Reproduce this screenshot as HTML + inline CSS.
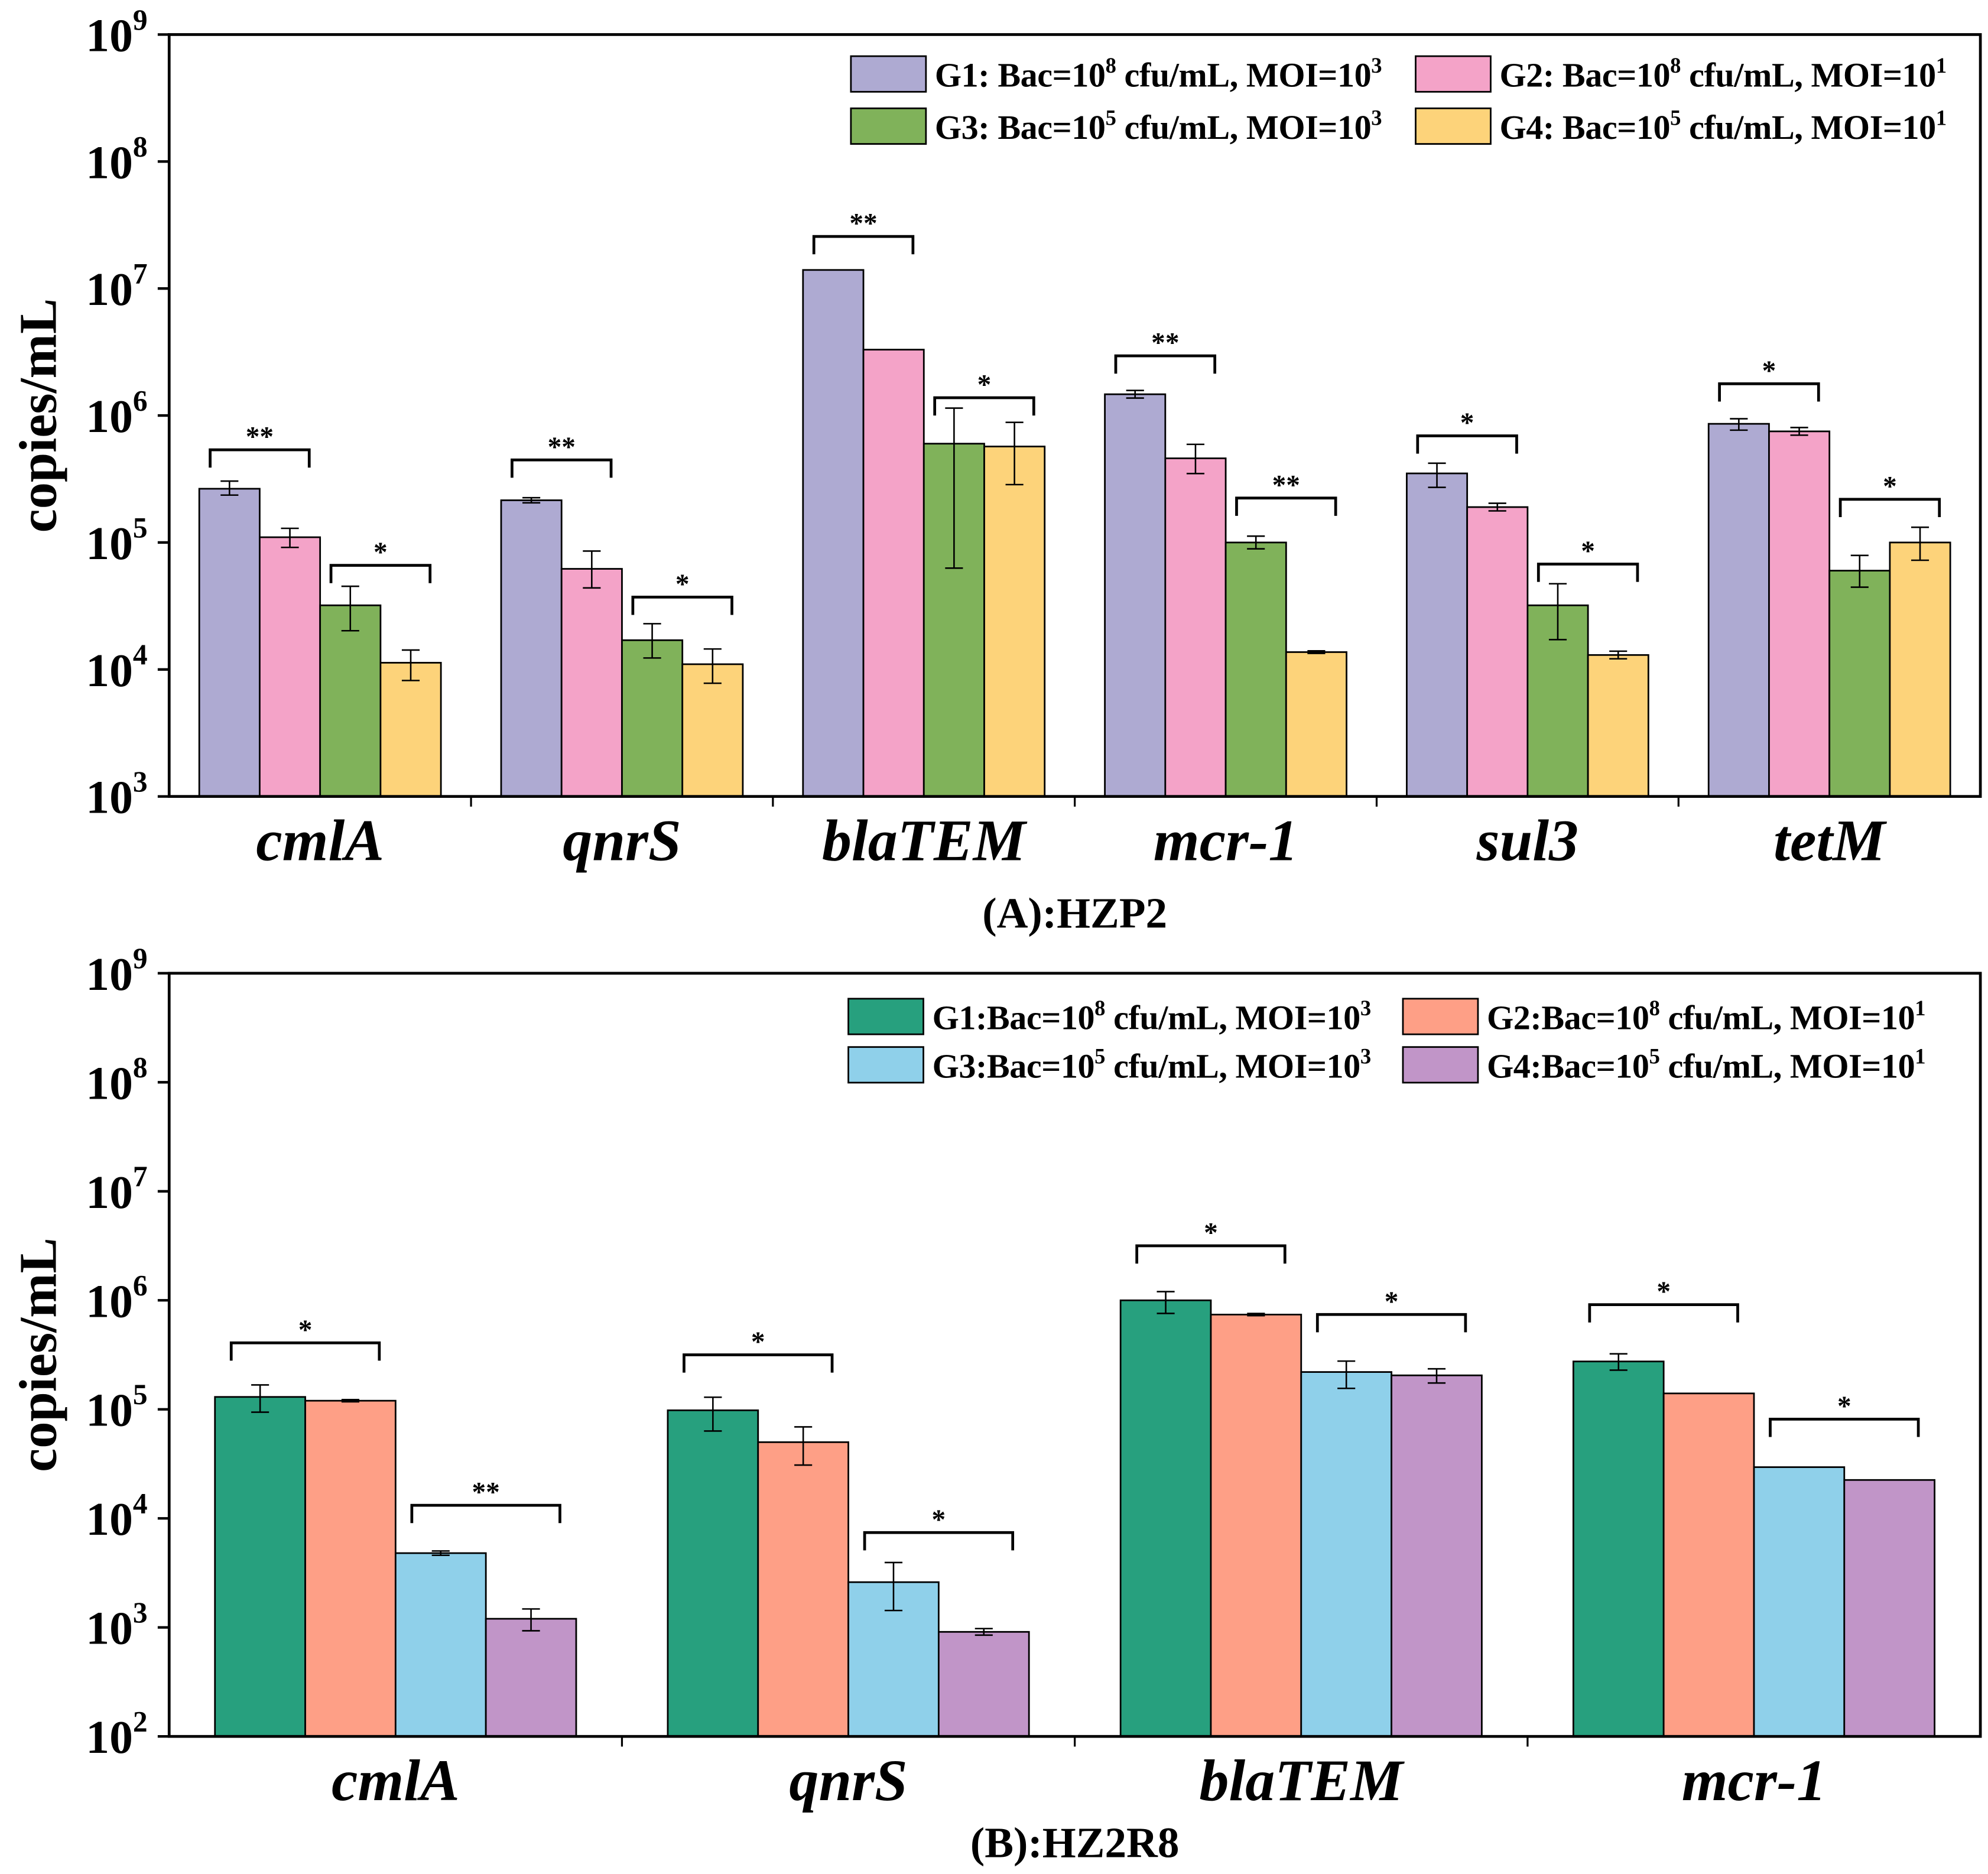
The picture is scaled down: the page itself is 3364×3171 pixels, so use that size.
<!DOCTYPE html>
<html><head><meta charset="utf-8"><style>
html,body{margin:0;padding:0;background:#fff;}
svg{display:block;}
text{font-family:"Liberation Serif",serif;font-weight:bold;fill:#000;}
</style></head><body>
<svg id="chart" width="3364" height="3171" viewBox="0 0 1563 1473" xmlns="http://www.w3.org/2000/svg"></svg>
<script>
// ---- Panel A data ----
const catsA = ["cmlA","qnrS","blaTEM","mcr-1","sul3","tetM"];
const valsA_G1 = [2.65e5,2.15e5,1.4e7,1.47e6,3.5e5,8.6e5];
const valsA_G2 = [1.1e5,6.2e4,3.3e6,4.6e5,1.9e5,7.5e5];
const valsA_G3 = [3.2e4,1.7e4,6.0e5,1.0e5,3.2e4,6.0e4];
const valsA_G4 = [1.13e4,1.1e4,5.7e5,1.37e4,1.3e4,1.0e5];
const errHiA = [[0.06,0.07,0.15,0.1],[0.02,0.14,0.13,0.12],[0,0,0.28,0.19],[0.03,0.11,0.05,0.01],[0.08,0.03,0.17,0.03],[0.04,0.03,0.12,0.12]];
const errLoA = [[0.05,0.08,0.2,0.14],[0.02,0.15,0.14,0.15],[0,0,0.98,0.3],[0.03,0.12,0.05,0.01],[0.11,0.03,0.27,0.03],[0.05,0.03,0.13,0.14]];
const sigLevelA = [[5.73,4.82],[5.65,4.57],[7.41,6.14],[6.47,5.35],[5.84,4.83],[6.25,5.34]];
const sigLabelA = [["**","*"],["**","*"],["**","*"],["**","**"],["*","*"],["*","*"]];
const legendA = ["G1: Bac=10|8| cfu/mL, MOI=10|3|","G2: Bac=10|8| cfu/mL, MOI=10|1|","G3: Bac=10|5| cfu/mL, MOI=10|3|","G4: Bac=10|5| cfu/mL, MOI=10|1|"];
// ---- Panel B data ----
const catsB = ["cmlA","qnrS","blaTEM","mcr-1"];
const valsB_G1 = [1.3e5,9.8e4,1.0e6,2.75e5];
const valsB_G2 = [1.2e5,5.0e4,7.4e5,1.4e5];
const valsB_G3 = [4.8e3,2.6e3,2.2e5,2.95e4];
const valsB_G4 = [1.2e3,9.1e2,2.05e5,2.25e4];
const errHiB = [[0.11,0.01,0.02,0.09],[0.12,0.14,0.18,0.03],[0.08,0.01,0.1,0.06],[0.07,0,0,0]];
const errLoB = [[0.14,0.01,0.02,0.11],[0.19,0.21,0.26,0.03],[0.12,0.01,0.15,0.07],[0.08,0,0,0]];
const sigLevelB = [[5.61,4.12],[5.50,3.87],[6.50,5.87],[5.96,4.91]];
const sigLabelB = [["*","**"],["*","*"],["*","*"],["*","*"]];
const legendB = ["G1:Bac=10|8| cfu/mL, MOI=10|3|","G2:Bac=10|8| cfu/mL, MOI=10|1|","G3:Bac=10|5| cfu/mL, MOI=10|3|","G4:Bac=10|5| cfu/mL, MOI=10|1|"];

const NS="http://www.w3.org/2000/svg";
const svg=document.getElementById('chart');
function el(tag,attrs,parent){const e=document.createElementNS(NS,tag);for(const k in attrs)e.setAttribute(k,attrs[k]);(parent||svg).appendChild(e);return e;}

function panel(cfg){
  const g=el('g',{});
  
  
  const {x0,x1,yTop,yBot,dMin,dMax}=cfg;
  const yS=v=>yBot-(v-dMin)/(dMax-dMin)*(yBot-yTop);
  const y=v=>yS(Math.log10(v));
  const n=cfg.cats.length, gw=(x1-x0)/n, bw=cfg.barW, gStart=(gw-4*bw)/2;
  const series=[cfg.v1,cfg.v2,cfg.v3,cfg.v4];
  for(let i=0;i<n;i++){
    for(let s=0;s<4;s++){
      const bx=x0+i*gw+gStart+s*bw, v=series[s][i], ty=y(v);
      const r=el('rect',{x:bx,y:ty,width:bw,height:yBot-ty,fill:cfg.colors[s],stroke:'#000','stroke-width':1.3},g);
      
      
      const lv=Math.log10(v), hi=cfg.eh[i][s], lo=cfg.el[i][s];
      if(hi>0||lo>0){
        const cx=bx+bw/2, yh=yS(lv+hi), yl=yS(lv-lo);
        const eb=el('path',{d:`M${cx},${yh}V${yl}M${cx-7},${yh}H${cx+7}M${cx-7},${yl}H${cx+7}`,stroke:'#000','stroke-width':1.2,fill:'none'},g);
        
        
      }
    }
    for(let p=0;p<2;p++){
      const bx1=x0+i*gw+gStart+p*2*bw+bw*0.18, bx2=bx1+bw*1.64, by=yS(cfg.sl[i][p]);
      const br=el('path',{d:`M${bx1},${by+14}V${by}H${bx2}V${by+14}`,stroke:'#000','stroke-width':2.2,fill:'none'},g);
      
      
      const t=el('text',{x:(bx1+bx2)/2,y:by-3,'text-anchor':'middle','font-size':22},g);
      t.textContent=cfg.sig[i][p];
      
      
    }
    const lab=el('text',{x:x0+(i+0.5)*gw,y:yBot+50,'text-anchor':'middle','font-size':46.5,'font-style':'italic'},g);
    lab.textContent=cfg.cats[i];
    
    
    if(i>0){const tk=el('line',{x1:x0+i*gw,x2:x0+i*gw,y1:yBot,y2:yBot+8,stroke:'#000','stroke-width':1.5},g);
      }
  }
  const fr=el('rect',{x:x0,y:yTop,width:x1-x0,height:yBot-yTop,fill:'none',stroke:'#000','stroke-width':2.2},g);
  
  
  for(let d=dMin;d<=dMax;d++){
    const ty=yS(d);
    const tk=el('line',{x1:x0-9,x2:x0,y1:ty,y2:ty,stroke:'#000','stroke-width':2},g);
    
    const t=el('text',{x:x0-17,y:ty+13,'text-anchor':'end','font-size':37},g);
    
    t.innerHTML='10<tspan dy="-17" font-size="23">'+d+'</tspan>';
  }
  const yt=el('text',{x:0,y:0,'text-anchor':'middle','font-size':42,transform:`translate(44,${(yTop+yBot)/2}) rotate(-90)`},g);
  yt.textContent='copies/mL';
  
  const tt=el('text',{x:845,y:cfg.titleY,'text-anchor':'middle','font-size':34},g);
  tt.textContent=cfg.title;
  
  for(let s=0;s<4;s++){
    const lx=cfg.legX[s%2], ly=cfg.legY[Math.floor(s/2)];
    const lg=el('g',{},g);
    
    
    el('rect',{x:lx,y:ly,width:59,height:28,fill:cfg.colors[s],stroke:'#000','stroke-width':1.3},lg);
    const parts=cfg.legend[s].split('|');
    const t=el('text',{x:lx+66,y:ly+24,'font-size':27,'letter-spacing':-0.2},lg);
    t.innerHTML=parts[0]+'<tspan dy="-11" font-size="17">'+parts[1]+'</tspan><tspan dy="11">'+parts[2]+'</tspan><tspan dy="-11" font-size="17">'+parts[3]+'</tspan>';
  }
}
panel({name:'panel-a-hzp2',cats:catsA,v1:valsA_G1,v2:valsA_G2,v3:valsA_G3,v4:valsA_G4,eh:errHiA,el:errLoA,sl:sigLevelA,sig:sigLabelA,legend:legendA,
  x0:133,x1:1557,yTop:27,yBot:626,dMin:3,dMax:9,barW:47.5,colors:['#aeaad2','#f4a3c8','#80b25a','#fdd37a'],
  title:'(A):HZP2',titleY:729,legX:[669,1113],legY:[44,85]});
panel({name:'panel-b-hz2r8',cats:catsB,v1:valsB_G1,v2:valsB_G2,v3:valsB_G3,v4:valsB_G4,eh:errHiB,el:errLoB,sl:sigLevelB,sig:sigLabelB,legend:legendB,
  x0:133,x1:1557,yTop:765,yBot:1365,dMin:2,dMax:9,barW:71,colors:['#27a07e','#fe9f86','#8fd0ea','#c195c8'],
  title:'(B):HZ2R8',titleY:1460,legX:[667,1103],legY:[785,823]});
</script>
</body></html>
